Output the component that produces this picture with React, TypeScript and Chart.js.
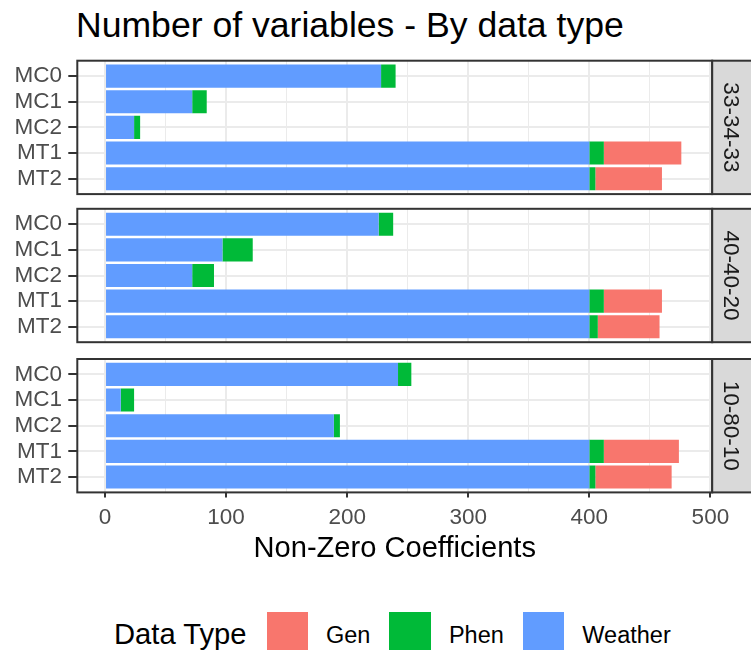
import React, { useEffect, useRef } from "react";
import { Chart, registerables } from "chart.js";

Chart.register(...registerables);

// ---------- data ----------
const categories = ["MC0", "MC1", "MC2", "MT1", "MT2"];
const panelLabels = ["33-34-33", "40-40-20", "10-80-10"];
const legendLabels = ["Gen", "Phen", "Weather"];
const legendColors = ["#F8766D", "#00BA38", "#619CFF"];

const weather_33_34_33 = [228, 72, 24, 400, 400];
const phen_33_34_33 = [12, 12, 5, 12, 5];
const gen_33_34_33 = [0, 0, 0, 64, 55];

const weather_40_40_20 = [226, 97, 72, 400, 400];
const phen_40_40_20 = [12, 25, 18, 12, 7];
const gen_40_40_20 = [0, 0, 0, 48, 51];

const weather_10_80_10 = [242, 13, 189, 400, 400];
const phen_10_80_10 = [11, 11, 5, 12, 5];
const gen_10_80_10 = [0, 0, 0, 62, 63];

const xTickLabels = [0, 100, 200, 300, 400, 500];
const xMinorBreaks = [50, 150, 250, 350, 450];

const weatherByPanel = [weather_33_34_33, weather_40_40_20, weather_10_80_10];
const phenByPanel = [phen_33_34_33, phen_40_40_20, phen_10_80_10];
const genByPanel = [gen_33_34_33, gen_40_40_20, gen_10_80_10];

// ---------- layout ----------
const FONT = "'Liberation Sans', Arial, Helvetica, sans-serif";
const W = 751;
const PANEL_TOPS = [60.7, 208.8, 359];
const PANEL_H = 133.4;
const AREA_LEFT = 77.3;
const AREA_RIGHT = 712.2;
const X_MIN = -22.9;
const X_MAX = 501.5;
const BOTTOM_CANVAS_END = 575;

const stripPlugin = {
  id: "facetStrip",
  afterDraw(chart: any, _args: any, opts: any) {
    const { ctx, chartArea: a } = chart;
    ctx.save();
    ctx.strokeStyle = "#333333";
    ctx.lineWidth = 2;
    ctx.strokeRect(a.left, a.top, a.right - a.left, a.bottom - a.top);
    const sx = a.right;
    const sw = W + 3 - a.right;
    ctx.fillStyle = "#D9D9D9";
    ctx.fillRect(sx, a.top, sw, a.bottom - a.top);
    ctx.strokeRect(sx, a.top, sw, a.bottom - a.top);
    ctx.translate(sx + 18.3, (a.top + a.bottom) / 2);
    ctx.rotate(Math.PI / 2);
    ctx.fillStyle = "#1A1A1A";
    ctx.font = `22.5px ${FONT}`;
    ctx.textAlign = "center";
    ctx.textBaseline = "middle";
    ctx.fillText(opts.text, 0, 0);
    ctx.restore();
  },
};

function toPoints(values: number[]) {
  return values
    .map((v, i) => ({ x: v, y: i + 1 }))
    .filter((p) => p.x > 0);
}

function panelGeometry(i: number) {
  const isLast = i === PANEL_TOPS.length - 1;
  const top = PANEL_TOPS[i];
  const canvasTop = Math.floor(top) - 6;
  const padTop = top - canvasTop;
  const canvasH = isLast
    ? BOTTOM_CANVAS_END - canvasTop
    : Math.ceil(top + PANEL_H + 6) - canvasTop;
  const rest = canvasH - padTop - PANEL_H;
  return { isLast, canvasTop, canvasH, padTop, rest };
}

function makeChart(canvas: HTMLCanvasElement, i: number) {
  const g = panelGeometry(i);
  const gridValues = [...xTickLabels, ...xMinorBreaks].sort((a, b) => a - b);
  const isMajor = (v: number) => xTickLabels.includes(v);
  return new Chart(canvas, {
    type: "bar",
    data: {
      datasets: [
        { label: "Weather", data: toPoints(weatherByPanel[i]), backgroundColor: legendColors[2], stack: "all" },
        { label: "Phen", data: toPoints(phenByPanel[i]), backgroundColor: legendColors[1], stack: "all" },
        { label: "Gen", data: toPoints(genByPanel[i]), backgroundColor: legendColors[0], stack: "all" },
      ] as any,
    },
    options: {
      indexAxis: "y",
      responsive: false,
      animation: false,
      events: [],
      layout: {
        padding: {
          left: 0,
          right: W - AREA_RIGHT,
          top: g.padTop,
          bottom: g.isLast ? 0 : g.rest,
        },
      },
      datasets: {
        bar: { barPercentage: 0.9, categoryPercentage: 1.0, borderWidth: 0 },
      },
      plugins: {
        legend: { display: false },
        tooltip: { enabled: false },
        title: { display: false },
        facetStrip: { text: panelLabels[i] },
      } as any,
      scales: {
        x: {
          type: "linear",
          min: X_MIN,
          max: X_MAX,
          offset: false,
          stacked: true,
          afterBuildTicks: (s: any) => {
            s.ticks = gridValues.map((v) => ({ value: v }));
          },
          afterFit: (s: any) => {
            if (g.isLast) s.height = g.rest;
            s.paddingLeft = 0;
            s.paddingRight = 0;
          },
          grid: {
            offset: false,
            color: "#EBEBEB",
            lineWidth: (c: any) => (c.tick && isMajor(c.tick.value) ? 2 : 1),
            drawTicks: g.isLast,
            tickLength: 5,
            tickWidth: 2,
            tickColor: (c: any) => (c.tick && isMajor(c.tick.value) ? "#333333" : "rgba(0,0,0,0)"),
          },
          border: { display: false },
          ticks: {
            display: g.isLast,
            autoSkip: false,
            maxRotation: 0,
            padding: 6.4,
            color: "#4D4D4D",
            font: { size: 22.5, family: FONT },
            callback: (v: any) => (isMajor(Number(v)) ? String(v) : ""),
          },
          title: {
            display: g.isLast,
            text: "Non-Zero Coefficients",
            color: "#000000",
            font: { size: 29.1, family: FONT },
            padding: { top: 0, bottom: 8.5 },
          },
        },
        y: {
          type: "linear",
          min: 0.4,
          max: categories.length + 0.6,
          reverse: true,
          offset: false,
          afterBuildTicks: (s: any) => {
            s.ticks = categories.map((_, k) => ({ value: k + 1 }));
          },
          afterFit: (s: any) => {
            s.width = AREA_LEFT;
            s.paddingTop = 0;
            s.paddingBottom = 0;
          },
          grid: {
            offset: false,
            color: "#EBEBEB",
            lineWidth: 2,
            tickLength: 9,
            tickWidth: 2,
            tickColor: "#333333",
          },
          border: { display: false },
          ticks: {
            autoSkip: false,
            padding: 6.3,
            color: "#4D4D4D",
            font: { size: 22.5, family: FONT },
            callback: (v: any) => categories[Number(v) - 1] ?? "",
          },
        },
      },
    } as any,
    plugins: [stripPlugin],
  });
}

export default function App() {
  const refs = [useRef<HTMLCanvasElement>(null), useRef<HTMLCanvasElement>(null), useRef<HTMLCanvasElement>(null)];

  useEffect(() => {
    const charts = refs.map((r, i) => (r.current ? makeChart(r.current, i) : null));
    return () => {
      charts.forEach((c) => c && c.destroy());
    };
  }, []);

  return (
    <div
      style={{
        position: "absolute",
        left: 0,
        top: 0,
        width: W,
        height: 650,
        overflow: "hidden",
        background: "#ffffff",
        fontFamily: FONT,
      }}
    >
      <div
        style={{
          position: "absolute",
          left: 76,
          top: 7.6,
          fontSize: 35.6,
          lineHeight: "35.6px",
          color: "#000000",
          whiteSpace: "nowrap",
        }}
      >
        Number of variables - By data type
      </div>

      {PANEL_TOPS.map((_, i) => {
        const g = panelGeometry(i);
        return (
          <canvas
            key={i}
            ref={refs[i]}
            width={W}
            height={g.canvasH}
            style={{ position: "absolute", left: 0, top: g.canvasTop, width: W, height: g.canvasH }}
          />
        );
      })}

      <div
        style={{
          position: "absolute",
          left: 114,
          top: 612,
          display: "flex",
          alignItems: "flex-start",
          whiteSpace: "nowrap",
        }}
      >
        <span style={{ fontSize: 29.2, lineHeight: "29.2px", marginTop: 8.3, color: "#000000", marginRight: 20 }}>
          Data Type
        </span>
        {legendLabels.map((lab, k) => (
          <React.Fragment key={lab}>
            <span
              style={{
                display: "inline-block",
                width: 41.5,
                height: 41.5,
                background: legendColors[k],
                marginRight: 18,
              }}
            />
            <span
              style={{
                fontSize: 23.5,
                lineHeight: "23.5px",
                marginTop: 12.1,
                color: "#000000",
                marginRight: 19,
              }}
            >
              {lab}
            </span>
          </React.Fragment>
        ))}
      </div>
    </div>
  );
}
